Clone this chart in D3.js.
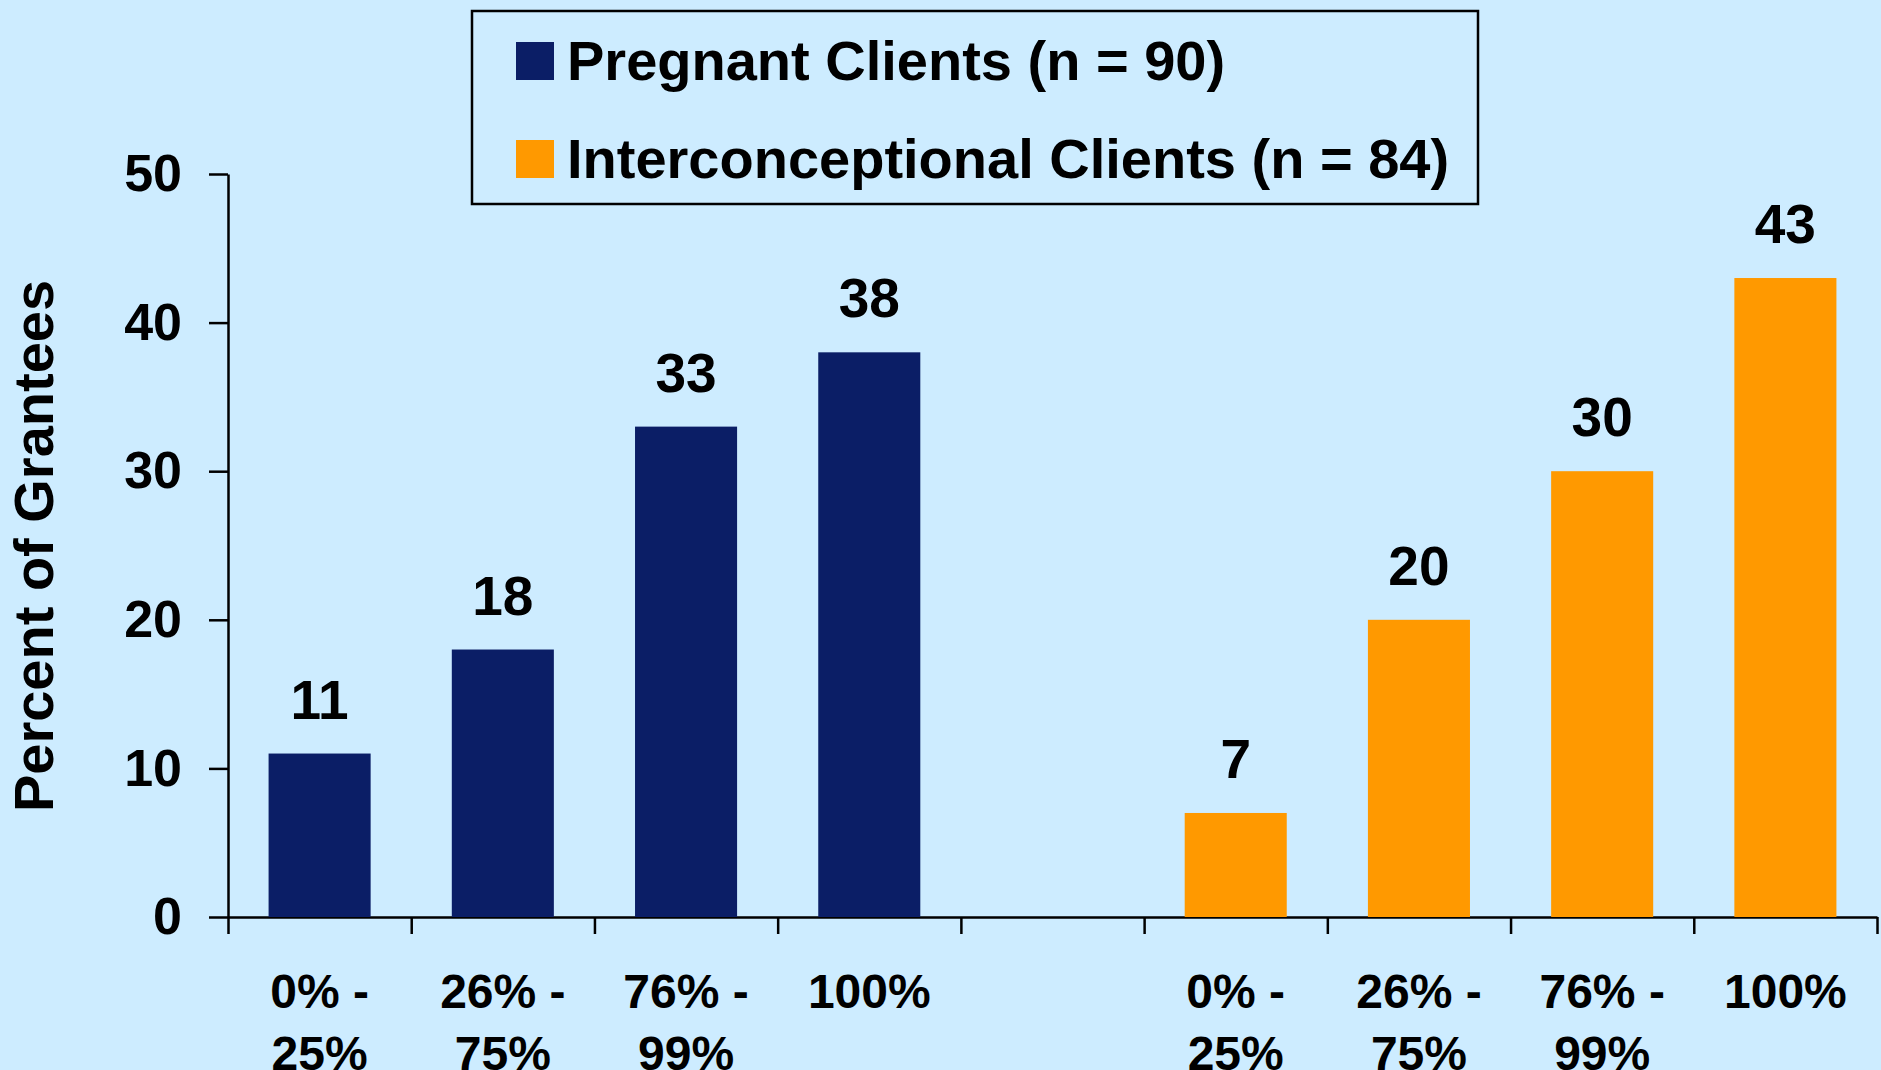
<!DOCTYPE html>
<html>
<head>
<meta charset="utf-8">
<script src="https://cdn.jsdelivr.net/npm/d3@7"></script>
<style>
  html, body { margin: 0; padding: 0; background: #cdecff; }
  svg { display: block; font-family: "Liberation Sans", Arial, sans-serif; font-weight: bold; }
</style>
</head>
<body>
<svg id="chart" width="1881" height="1070"></svg>
<script>
// data
var seriesNames = ["Pregnant Clients (n = 90)", "Interconceptional Clients (n = 84)"];
var seriesColors = ["#0b1e66", "#ff9900"];
var categories = [["0% -", "25%"], ["26% -", "75%"], ["76% -", "99%"], ["100%"]];
var pregnant = [11, 18, 33, 38];
var interconceptional = [7, 20, 30, 43];
var yTicks = [0, 10, 20, 30, 40, 50];

// slot layout: 4 pregnant, 1 empty, 4 interconceptional
var bars = [];
pregnant.forEach(function (v, i) { bars.push({slot: i, value: v, series: 0, label: categories[i]}); });
interconceptional.forEach(function (v, i) { bars.push({slot: i + 5, value: v, series: 1, label: categories[i]}); });

var svg = d3.select("svg#chart");

var x = d3.scaleLinear().domain([0, 9]).range([228, 1877]);
var y = d3.scaleLinear().domain([0, 50]).range([917, 174]);
var barW = (x(1) - x(0)) * 0.557;

// y axis
svg.append("g")
  .attr("transform", "translate(" + x(0) + ",0)")
  .call(d3.axisLeft(y).tickValues(yTicks).tickSize(19).tickSizeOuter(0).tickPadding(27))
  .call(function (g) {
    g.selectAll("line, path").attr("stroke", "#000").attr("stroke-width", 2.5);
    g.selectAll("text").attr("font-size", 52).attr("fill", "#000")
      .attr("font-family", "Liberation Sans, Arial, sans-serif").attr("font-weight", "bold");
  });

// x axis (ticks only, labels drawn below)
svg.append("g")
  .attr("transform", "translate(0," + y(0) + ")")
  .call(d3.axisBottom(x).tickValues(d3.range(10)).tickSize(17).tickSizeOuter(0).tickFormat(""))
  .call(function (g) {
    g.selectAll("line, path").attr("stroke", "#000").attr("stroke-width", 2.5);
  });

// bars
svg.append("g")
  .selectAll("rect")
  .data(bars)
  .enter()
  .append("rect")
  .attr("x", function (d) { return x(d.slot + 0.5) - barW / 2; })
  .attr("width", barW)
  .attr("y", function (d) { return y(d.value); })
  .attr("height", function (d) { return y(0) - y(d.value); })
  .attr("fill", function (d) { return seriesColors[d.series]; });

// value labels
svg.append("g")
  .selectAll("text")
  .data(bars)
  .enter()
  .append("text")
  .attr("x", function (d) { return x(d.slot + 0.5); })
  .attr("y", function (d) { return y(d.value) - 35; })
  .attr("text-anchor", "middle")
  .attr("font-size", 55)
  .text(function (d) { return d.value; });

// category labels, two lines
var cat = svg.append("g")
  .selectAll("text")
  .data(bars)
  .enter()
  .append("text")
  .attr("text-anchor", "middle")
  .attr("font-size", 48);
cat.selectAll("tspan")
  .data(function (d) { return d.label.map(function (t, k) { return {t: t, k: k, slot: d.slot}; }); })
  .enter()
  .append("tspan")
  .attr("x", function (d) { return x(d.slot + 0.5); })
  .attr("y", function (d) { return 1008 + d.k * 62; })
  .text(function (d) { return d.t; });

// y axis title
svg.append("text")
  .attr("transform", "translate(53,546) rotate(-90)")
  .attr("text-anchor", "middle")
  .attr("font-size", 56)
  .text("Percent of Grantees");

// legend
var legend = svg.append("g");
legend.append("rect")
  .attr("x", 472).attr("y", 11)
  .attr("width", 1006).attr("height", 193)
  .attr("fill", "#cdecff").attr("stroke", "#000").attr("stroke-width", 2.5);
var items = legend.selectAll("g.item")
  .data(seriesNames)
  .enter()
  .append("g")
  .attr("transform", function (d, i) { return "translate(0," + (61 + i * 98) + ")"; });
items.append("rect")
  .attr("x", 516).attr("y", -19)
  .attr("width", 38).attr("height", 38)
  .attr("fill", function (d, i) { return seriesColors[i]; });
items.append("text")
  .attr("x", 567).attr("y", 19)
  .attr("font-size", 56)
  .text(function (d) { return d; });
</script>
</body>
</html>
